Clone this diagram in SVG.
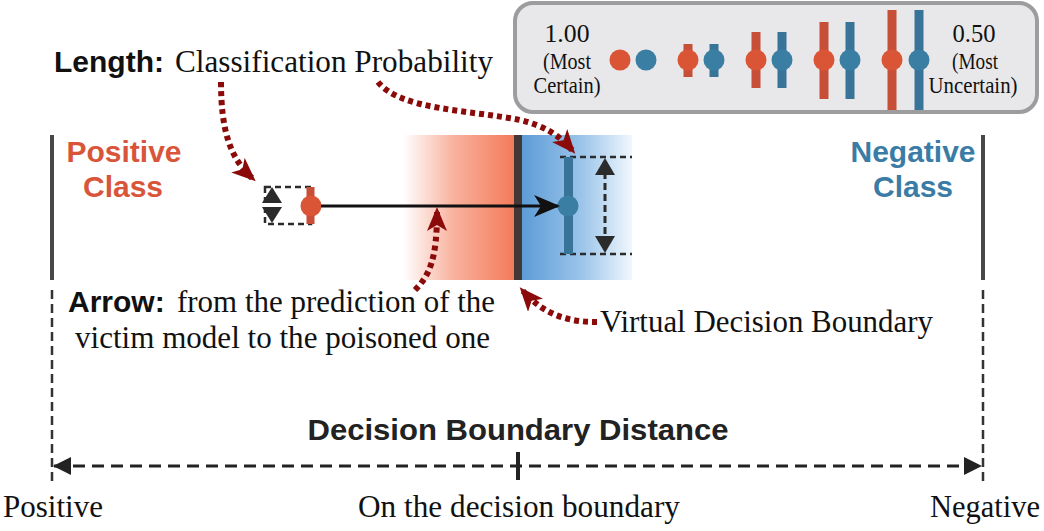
<svg xmlns="http://www.w3.org/2000/svg" width="1044" height="531" viewBox="0 0 1044 531">
  <style>
    .sans { font-family: "Liberation Sans", Arial, sans-serif; font-weight: bold; }
    .serif { font-family: "Liberation Serif", "Times New Roman", serif; fill: #111; }
    .dotted { fill: none; stroke: #8b0a0a; stroke-width: 6; stroke-dasharray: 5 4; }
    .bound { stroke: #4a4749; stroke-width: 4; }
    .vdash { stroke: #333; stroke-width: 2.5; stroke-dasharray: 9 5; }
    .boxdash { fill: none; stroke: #2b2b2b; stroke-width: 2.5; stroke-dasharray: 6 4; }
    .redc { fill: #d95535; }
    .redb { fill: #c84f37; }
    .bluec { fill: #3b7ea4; }
    .blueb { fill: #387398; }
  </style>
  <defs>
    <linearGradient id="redGrad" x1="0" y1="0" x2="1" y2="0">
      <stop offset="0" stop-color="#ffffff"/>
      <stop offset="0.45" stop-color="#f8b29e"/>
      <stop offset="1" stop-color="#f37a59"/>
    </linearGradient>
    <linearGradient id="blueGrad" x1="0" y1="0" x2="1" y2="0">
      <stop offset="0" stop-color="#5b9bd6"/>
      <stop offset="0.55" stop-color="#9cc5ea"/>
      <stop offset="1" stop-color="#f0f7fd"/>
    </linearGradient>
    <marker id="redHead" markerUnits="userSpaceOnUse" markerWidth="24" markerHeight="20" viewBox="0 0 24 20" refX="19" refY="10" orient="auto">
      <path d="M0,0 L24,10 L0,20 L6,10 z" fill="#8b0a0a"/>
    </marker>
    <marker id="blackHead" markerUnits="userSpaceOnUse" markerWidth="26" markerHeight="22" viewBox="0 0 26 22" refX="24" refY="11" orient="auto">
      <path d="M0,0 L26,11 L0,22 L7,11 z" fill="#111"/>
    </marker>
    <marker id="axisHead" markerUnits="userSpaceOnUse" markerWidth="18" markerHeight="20" viewBox="0 0 18 20" refX="17" refY="10" orient="auto-start-reverse">
      <path d="M0,1 L18,10 L0,19 z" fill="#222"/>
    </marker>
  </defs>

  <!-- Legend -->
  <g id="legend">
    <rect x="515" y="3" width="522" height="109" rx="18" fill="#e8e8ea" stroke="#9d9d9f" stroke-width="4"/>
    <text class="serif" x="567" y="42" font-size="26" text-anchor="middle" textLength="45" lengthAdjust="spacingAndGlyphs">1.00</text>
    <text class="serif" x="567" y="69" font-size="23" text-anchor="middle" textLength="48" lengthAdjust="spacingAndGlyphs">(Most</text>
    <text class="serif" x="567" y="93" font-size="23" text-anchor="middle" textLength="67" lengthAdjust="spacingAndGlyphs">Certain)</text>
    <text class="serif" x="974" y="42" font-size="26" text-anchor="middle" textLength="43" lengthAdjust="spacingAndGlyphs">0.50</text>
    <text class="serif" x="975" y="69" font-size="23" text-anchor="middle" textLength="46" lengthAdjust="spacingAndGlyphs">(Most</text>
    <text class="serif" x="973" y="93" font-size="23" text-anchor="middle" textLength="89" lengthAdjust="spacingAndGlyphs">Uncertain)</text>
    <circle class="redc" cx="620" cy="60" r="10.5"/>
    <circle class="bluec" cx="646" cy="60" r="10.5"/>
    <rect class="redb" x="683.5" y="44" width="9" height="33"/>
    <circle class="redc" cx="688" cy="60" r="10.5"/>
    <rect class="blueb" x="709.5" y="44" width="9" height="33"/>
    <circle class="bluec" cx="714" cy="60" r="10.5"/>
    <rect class="redb" x="751.5" y="32" width="9" height="56"/>
    <circle class="redc" cx="756" cy="60" r="10.5"/>
    <rect class="blueb" x="777.5" y="32" width="9" height="56"/>
    <circle class="bluec" cx="782" cy="60" r="10.5"/>
    <rect class="redb" x="819.5" y="22" width="9" height="77"/>
    <circle class="redc" cx="824" cy="60" r="10.5"/>
    <rect class="blueb" x="845.5" y="22" width="9" height="77"/>
    <circle class="bluec" cx="850" cy="60" r="10.5"/>
    <rect class="redb" x="887.5" y="10" width="9" height="100"/>
    <circle class="redc" cx="892" cy="60" r="10.5"/>
    <rect class="blueb" x="914.5" y="10" width="9" height="100"/>
    <circle class="bluec" cx="919" cy="60" r="10.5"/>
  </g>

  <!-- Class regions -->
  <g id="decision-region">
    <rect x="403" y="135" width="112" height="145" fill="url(#redGrad)"/>
    <rect x="521" y="135" width="111" height="145" fill="url(#blueGrad)"/>
    <rect x="514" y="135" width="8" height="145" fill="#433836"/>
  </g>

  <g id="positive-class">
    <line class="bound" x1="52" y1="135" x2="52" y2="280"/>
    <text class="sans" x="124" y="162" font-size="30" fill="#d9553a" text-anchor="middle">Positive</text>
    <text class="sans" x="123" y="197" font-size="30" fill="#d9553a" text-anchor="middle">Class</text>
  </g>
  <g id="negative-class">
    <line class="bound" x1="983" y1="135" x2="983" y2="280"/>
    <text class="sans" x="913" y="162" font-size="30" fill="#3a7ca5" text-anchor="middle">Negative</text>
    <text class="sans" x="913" y="197" font-size="30" fill="#3a7ca5" text-anchor="middle">Class</text>
  </g>

  <!-- Victim prediction marker -->
  <g id="victim-prediction">
    <rect class="boxdash" x="265" y="187" width="46" height="37"/>
    <polygon points="272,187 282,203 262,203" fill="#2b2b2b"/>
    <polygon points="262,207 282,207 272,223" fill="#2b2b2b"/>
    <rect class="redb" x="306.5" y="187" width="8" height="37"/>
    <circle class="redc" cx="311" cy="206" r="10.5"/>
  </g>

  <!-- Poisoned prediction marker -->
  <g id="poisoned-prediction">
    <line class="boxdash" x1="560" y1="157" x2="632" y2="157"/>
    <line class="boxdash" x1="560" y1="254" x2="632" y2="254"/>
    <line x1="605" y1="172" x2="605" y2="240" stroke="#2b2b2b" stroke-width="3" stroke-dasharray="7 4"/>
    <polygon points="605,158 615,175 595,175" fill="#2b2b2b"/>
    <polygon points="595,236 615,236 605,253" fill="#2b2b2b"/>
    <rect class="blueb" x="564" y="157" width="9" height="97"/>
    <circle class="bluec" cx="568" cy="206" r="10.5"/>
  </g>

  <!-- Connectors -->
  <g id="connectors">
    <line x1="321" y1="206" x2="558" y2="206" stroke="#111" stroke-width="3" marker-end="url(#blackHead)"/>
    <path class="dotted" d="M221,82 C221,130 230,158 252,178" marker-end="url(#redHead)"/>
    <path class="dotted" d="M378,82 C400,110 470,110 520,120 C545,126 560,136 572,150" marker-end="url(#redHead)"/>
    <path class="dotted" d="M415,290 C430,275 437,258 437,212" marker-end="url(#redHead)"/>
    <path class="dotted" d="M597,322 C570,322 545,316 523,291" marker-end="url(#redHead)"/>
    <line class="vdash" x1="52" y1="290" x2="52" y2="482"/>
    <line class="vdash" x1="983" y1="290" x2="983" y2="482"/>
    <line x1="54" y1="466" x2="981" y2="466" stroke="#222" stroke-width="3" stroke-dasharray="12 7" marker-start="url(#axisHead)" marker-end="url(#axisHead)"/>
    <line x1="518" y1="452" x2="518" y2="480" stroke="#222" stroke-width="4"/>
  </g>

  <!-- Annotation texts -->
  <g id="length-label">
    <text class="sans" x="54" y="72" font-size="30" fill="#111">Length:</text>
    <text class="serif" x="175" y="72" font-size="31" textLength="318" lengthAdjust="spacingAndGlyphs">Classification Probability</text>
  </g>
  <g id="arrow-label">
    <text class="sans" x="68" y="312" font-size="30" fill="#111">Arrow:</text>
    <text class="serif" x="177" y="312" font-size="31" textLength="318" lengthAdjust="spacingAndGlyphs">from the prediction of the</text>
    <text class="serif" x="75" y="348" font-size="31" textLength="415" lengthAdjust="spacingAndGlyphs">victim model to the poisoned one</text>
  </g>
  <g id="virtual-boundary-label">
    <text class="serif" x="600" y="332" font-size="31" textLength="333" lengthAdjust="spacingAndGlyphs">Virtual Decision Boundary</text>
  </g>
  <g id="axis-labels">
    <text class="sans" x="518" y="440" font-size="30" fill="#222" text-anchor="middle" textLength="421" lengthAdjust="spacingAndGlyphs">Decision Boundary Distance</text>
    <text class="serif" x="3" y="517" font-size="31" textLength="100" lengthAdjust="spacingAndGlyphs">Positive</text>
    <text class="serif" x="519" y="517" font-size="31" text-anchor="middle" textLength="322" lengthAdjust="spacingAndGlyphs">On the decision boundary</text>
    <text class="serif" x="930" y="517" font-size="31" textLength="110" lengthAdjust="spacingAndGlyphs">Negative</text>
  </g>
</svg>
